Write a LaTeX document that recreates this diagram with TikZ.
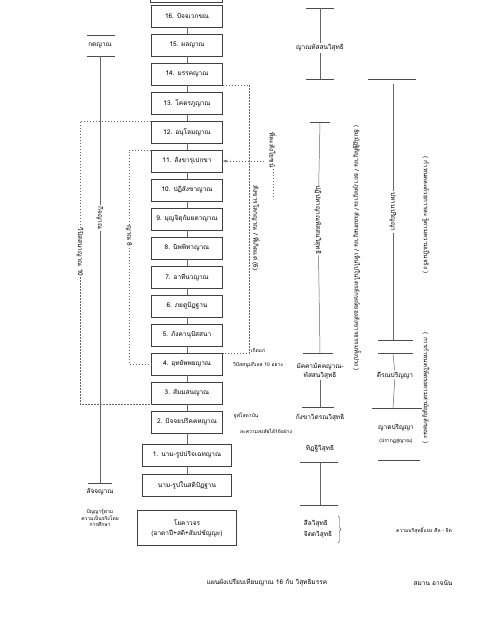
\documentclass[tikz,border=0pt]{standalone}
\usepackage{fontspec}
\newfontfamily\thaifont[Script=Thai]{Loma}
\usetikzlibrary{arrows.meta,decorations.pathreplacing}

\tikzset{
  nbox/.style={draw=black!75, fill=white, minimum width=71pt, minimum height=22pt,
    inner sep=1pt, font=\thaifont\fontsize{6.5}{8}\selectfont},
  link/.style={black!60, line width=0.5pt},
  tick/.style={black!70, line width=0.6pt},
  dline/.style={black!60, dash pattern=on 1.5pt off 1.5pt, line width=0.5pt},
  lbl/.style={inner sep=1pt, font=\thaifont\fontsize{6.5}{8.5}\selectfont},
  small/.style={inner sep=1pt, font=\thaifont\fontsize{5}{6.5}\selectfont},
  note/.style={inner sep=1pt, rotate=-90, font=\thaifont\fontsize{6.2}{7.5}\selectfont},
  vlbl/.style={lbl, rotate=-90},
}

\begin{document}
\begin{tikzpicture}[x=1pt,y=-1pt]
  \useasboundingbox (0,0) rectangle (487,630);

  % --- the 16 nana (middle column) ---
  \draw[black!75] (150,-6) rectangle (222,2);
  \foreach \i/\t in {16/{16. ปัจจเวกขณ}, 15/{15. ผลญาณ}, 14/{14. มรรคญาณ},
      13/{13. โคตรภูญาณ}, 12/{12. อนุโลมญาณ}, 11/{11. สังขารุเปกขา},
      10/{10. ปฏิสังขาญาณ}, 9/{9. มุญจิตุกัมยตาญาณ}, 8/{8. นิพพิทาญาณ},
      7/{7. อาทีนวญาณ}, 6/{6. ภยตูปัฏฐาน}, 5/{5. ภังคานุปัสสนา},
      4/{4. อุทยัพพยญาณ}, 3/{3. สัมมสนญาณ}, 2/{2. ปัจจยปริคคหญาณ}}
    \node[nbox] (b\i) at (187,{16+(16-\i)*29}) {\t};
  \node[nbox, minimum width=89pt] (b1) at (187,455) {1. นาม-รูปปริจเฉทญาณ};
  \node[nbox, minimum width=89pt] (nama) at (187,485) {นาม-รูปในสติปัฏฐาน};
  \node[nbox, minimum width=99pt, minimum height=35pt, align=center] (yoga) at (187,528)
    {โยคาวจร\\[2pt](อาตาปี+สติ+สัมปชัญญะ)};

  \foreach \i [evaluate=\i as \j using int(\i-1)] in {16,...,2}
    \draw[link] (b\i) -- (b\j);
  \draw[link] (b1) -- (nama);

  % dashed links on the right of the boxes
  \draw[dline] (b14.south east) -- ++(27,0) |- (b4.north east);
  \coordinate (a11) at (264,161);
  \draw[dline, -{Latex[length=4pt,width=3pt]}] (a11) -- (b11.east);
  \node[vlbl] (slo) at (273,150) {ที่ละสังโยชน์};
  \draw[dline] (slo) -- (273,196);
  \node[vlbl] (skl) at (256,228) {สังขารโลกญาณ / ที่เกิดแต่ (6)};
  \node[small] (kdk) at (258,350) {เกิดแก่};
  \node[small] (vpk) at (258,365) {วิปัสสนูปกิเลส 10 อย่าง};
  \node[small] (cso) at (246,416) {จูฬโสดาบัน};
  \node[small] (lks) at (266,431) {ละความสงสัยได้16อย่าง};

  % dashed brackets on the left of the boxes
  \node[vlbl] (vip10) at (80,252) {วิปัสสนาญาณ 10};
  \draw[dline] (b12.north west) -| (vip10);
  \draw[dline] (vip10) |- (b3.south west);
  \node[vlbl] (nana8) at (129,236) {ญาณ 8};
  \draw[dline] (b11.north west) -| (nana8);
  \draw[dline] (nana8) |- (b4.west);

  % --- left column ---
  \node[lbl] (kata) at (100,45) {กตญาณ};
  \draw[tick] (87,35) -- (115,35);
  \draw[tick] (87,56) -- (115,56);
  \node[vlbl] (kicca) at (100,218) {กิจญาณ};
  \draw[tick] (88,483) -- (112,483);
  \draw[link] (100,56) -- (kicca) -- (100,483);
  \node[lbl] (sacca) at (100,492) {สัจจญาณ};
  \node[small, align=center] (sdef) at (100,518) {ปัญญารู้ตาม\\ความเป็นจริงโดย\\การศึกษา};

  % --- visuddhi column ---
  \node[lbl] (nds) at (320,48) {ญาณทัสสนวิสุทธิ};
  \draw[tick] (306,8) -- (334,8);
  \draw[tick] (306,79) -- (334,79);
  \draw[link] (320,8) -- (nds) -- (320,79);
  \node[vlbl] (ppd) at (318,220) {ปฏิปทาญาณทัสสนวิสุทธิ};
  \draw[tick] (310,122) -- (330,122);
  \draw[tick] (303,353) -- (333,353);
  \draw[link] (320,122) -- (ppd) -- (320,353);
  \node[lbl, align=center] (mmd) at (320,371) {มัคคามัคคญาณ-\\ทัสสนวิสุทธิ};
  \draw[tick] (302,407) -- (334,407);
  \draw[link] (mmd) -- (320,407);
  \node[lbl] (kvd) at (320,418) {กังขาวิตรณวิสุทธิ};
  \node[lbl] (dtd) at (320,449) {ทิฏฐิวิสุทธิ};
  \draw[tick] (300,462) -- (338,462);
  \draw[tick] (300,505) -- (338,505);
  \draw[link] (320,462) -- (320,505);
  \node[lbl, align=left] (slc) at (318,529) {สีลวิสุทธิ\\[3pt]จิตตวิสุทธิ};
  \draw[black!70, decorate, decoration={brace, amplitude=3pt}] (338,516) -- (338,543);
  \node[small] (slcx) at (424,530) {ความบริสุทธิ์แห่ง ศีล - จิต};

  % vertical notes
  \node[note] (p1) at (357,248)
    {( ธัมมัฏฐิติญาณ / ยถาภูตญาณ / สัมมสนญาณ / เห็นไปในไตรลักษณ์ของสังขารธรรมทั้งปวง )};
  \node[note] (p2) at (426,215) {( กำหนดละด้วยการละ รู้ตามความเป็นจริง )};
  \node[note] (p3) at (426,388) {( การกำหนดให้ตรงตามสามัญญลักษณะ )};

  % --- parinna column ---
  \draw[tick] (368,79) -- (416,79);
  \node[vlbl] (phn) at (393,212) {ปหานปริญญา};
  \draw[link] (393,84) -- (phn) -- (393,340);
  \draw[tick] (378,340) -- (413,340);
  \draw[tick] (378,353) -- (413,353);
  \node[lbl] (tir) at (395,375) {ตีรณปริญญา};
  \draw[link] (393,353) -- (tir) -- (393,408);
  \draw[tick] (372,408) -- (422,408);
  \node[lbl] (yat) at (396,428) {ญาตปริญญา};
  \node[small] (yatx) at (396,441) {(ปรากฏสู่ญาณ)};
  \draw[tick] (378,460) -- (420,460);

  % caption
  \node[lbl] (cap) at (267,583) {แผนผังเปรียบเทียบญาณ 16 กับ วิสุทธิมรรค};
  \node[lbl] (auth) at (433,583) {สมาน อาจนัน};
\end{tikzpicture}
\end{document}
